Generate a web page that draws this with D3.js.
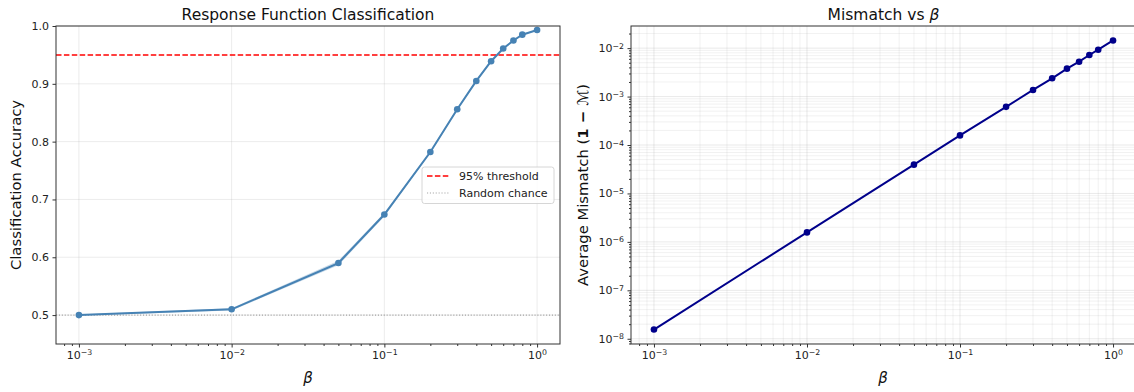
<!DOCTYPE html>
<html>
<head>
<meta charset="utf-8">
<script src="https://cdn.jsdelivr.net/npm/d3@7"></script>
<style>
  body { margin: 0; background: #fff; }
  svg { display: block; font-family: "DejaVu Sans", sans-serif; }
</style>
</head>
<body>
<svg id="chart" width="1134" height="392"></svg>
<script>
// data
const betas = [0.001, 0.01, 0.05, 0.1, 0.2, 0.3, 0.4, 0.5, 0.6, 0.7, 0.8, 1.0];
const accuracy = [0.500, 0.510, 0.590, 0.674, 0.782, 0.856, 0.905, 0.939, 0.961, 0.975, 0.985, 0.993];
const accuracyStd = [0.001, 0.002, 0.004, 0.003, 0.002, 0.002, 0.002, 0.002, 0.001, 0.001, 0.001, 0.001];
const mismatch = [1.55e-8, 1.57e-6, 3.93e-5, 1.58e-4, 6.14e-4, 1.37e-3, 2.38e-3, 3.77e-3, 5.25e-3, 7.21e-3, 9.27e-3, 1.44e-2];
const accTicks = [0.5, 0.6, 0.7, 0.8, 0.9, 1.0];
const betaTicks = [-3, -2, -1, 0];
const mismatchTicks = [-8, -7, -6, -5, -4, -3, -2];
const threshold = 0.95;
const chance = 0.5;
const legendLabels = ["95% threshold", "Random chance"];

let svg = d3.select('#chart');

// log-range with matplotlib style 5% margins
function logPad(lo, hi){
    let a = Math.log10(lo), b = Math.log10(hi), m = (b - a) * 0.05;
    return [Math.pow(10, a - m), Math.pow(10, b + m)];
}

// minor tick values for a log axis between two exponents
function minorVals(e0, e1){
    let out = [];
    for(let e = e0; e <= e1; e++){
        for(let k = 2; k <= 9; k++){ out.push(k * Math.pow(10, e)); }
    }
    return out;
}

// write 10^e as text with a superscript
function powLabel(sel, e){
    sel.text(null);
    sel.append('tspan').text('10');
    sel.append('tspan').attr('dy', '-0.45em').style('font-size', '7.8px')
        .text(e < 0 ? '\u2212' + (-e) : String(e));
}

function frame(g, box){
    g.append('rect')
        .attr('x', box.x0).attr('y', box.y0)
        .attr('width', box.x1 - box.x0).attr('height', box.y1 - box.y0)
        .attr('fill', 'none').attr('stroke', '#333').attr('stroke-width', 1);
}

// ---------------- left: classification accuracy ----------------
let L = {x0: 56, x1: 560, y0: 26, y1: 344};
let xL = d3.scaleLog().domain(logPad(betas[0], betas[betas.length-1])).range([L.x0, L.x1]);
let yL = d3.scaleLinear().domain([0.45, 1.0]).range([L.y1, L.y0]);

let gL = svg.append('g');
let clipL = svg.append('clipPath').attr('id', 'clipL');
clipL.append('rect').attr('x', L.x0).attr('y', L.y0).attr('width', L.x1 - L.x0).attr('height', L.y1 - L.y0);

// grid
gL.selectAll('.gx').data(betaTicks).enter().append('line')
    .attr('x1', d => xL(Math.pow(10, d))).attr('x2', d => xL(Math.pow(10, d)))
    .attr('y1', L.y0).attr('y2', L.y1)
    .attr('stroke', '#b0b0b0').attr('stroke-opacity', 0.3).attr('stroke-width', 0.8);
gL.selectAll('.gy').data(accTicks).enter().append('line')
    .attr('x1', L.x0).attr('x2', L.x1)
    .attr('y1', d => yL(d)).attr('y2', d => yL(d))
    .attr('stroke', '#b0b0b0').attr('stroke-opacity', 0.3).attr('stroke-width', 0.8);

let plotL = gL.append('g').attr('clip-path', 'url(#clipL)');

// reference lines
plotL.append('line')
    .attr('x1', L.x0).attr('x2', L.x1).attr('y1', yL(threshold)).attr('y2', yL(threshold))
    .attr('stroke', 'red').attr('stroke-width', 1.5).attr('stroke-dasharray', '5.5,2.4');
plotL.append('line')
    .attr('x1', L.x0).attr('x2', L.x1).attr('y1', yL(chance)).attr('y2', yL(chance))
    .attr('stroke', 'gray').attr('stroke-opacity', 0.7).attr('stroke-width', 1.1).attr('stroke-dasharray', '1.1,1.8');

// std band
let accData = betas.map((b, i) => ({b: b, v: accuracy[i], s: accuracyStd[i]}));
plotL.append('path')
    .datum(accData)
    .attr('d', d3.area().x(d => xL(d.b)).y0(d => yL(d.v - d.s)).y1(d => yL(d.v + d.s)))
    .attr('fill', 'steelblue').attr('fill-opacity', 0.3);

plotL.append('path')
    .datum(accData)
    .attr('d', d3.line().x(d => xL(d.b)).y(d => yL(d.v)))
    .attr('fill', 'none').attr('stroke', 'steelblue').attr('stroke-width', 2);
plotL.selectAll('circle').data(accData).enter().append('circle')
    .attr('cx', d => xL(d.b)).attr('cy', d => yL(d.v)).attr('r', 3.3)
    .attr('fill', 'steelblue');

// axes
let axLx = gL.append('g').attr('transform', 'translate(0,' + L.y1 + ')')
    .call(d3.axisBottom(xL).tickValues(betaTicks.map(e => Math.pow(10, e))).tickSize(3.5).tickPadding(3.5));
axLx.selectAll('.tick text').each(function(d){ powLabel(d3.select(this), Math.round(Math.log10(d))); });
gL.append('g').attr('transform', 'translate(0,' + L.y1 + ')')
    .call(d3.axisBottom(xL).tickValues(minorVals(-4, 0).filter(v => v > xL.domain()[0] && v < xL.domain()[1])).tickSize(2).tickFormat(''));
gL.append('g').attr('transform', 'translate(' + L.x0 + ',0)')
    .call(d3.axisLeft(yL).tickValues(accTicks).tickFormat(d3.format('.1f')).tickSize(3.5).tickPadding(3.5));
gL.selectAll('.domain').remove();
gL.selectAll('.tick line').attr('stroke', '#333');
gL.selectAll('.tick text').style('font-size', '11px').attr('fill', '#222').style('font-family', '"DejaVu Sans", sans-serif');
frame(gL, L);

// legend
let lg = gL.append('g').attr('transform', 'translate(422,167)');
lg.append('rect').attr('width', 132).attr('height', 36.5).attr('rx', 2.5)
    .attr('fill', 'white').attr('fill-opacity', 0.8).attr('stroke', '#ccc').attr('stroke-width', 0.8);
lg.append('line').attr('x1', 5).attr('x2', 27).attr('y1', 9).attr('y2', 9)
    .attr('stroke', 'red').attr('stroke-width', 1.5).attr('stroke-dasharray', '5.5,2.4');
lg.append('line').attr('x1', 5).attr('x2', 27).attr('y1', 26).attr('y2', 26)
    .attr('stroke', 'gray').attr('stroke-opacity', 0.7).attr('stroke-width', 1.1).attr('stroke-dasharray', '1.1,1.8');
lg.selectAll('text').data(legendLabels).enter().append('text')
    .attr('x', 37).attr('y', (d, i) => 9 + 17 * i).attr('dy', '0.35em')
    .style('font-size', '11px').attr('fill', '#222').text(d => d);

// labels
svg.append('text').attr('x', (L.x0 + L.x1) / 2).attr('y', 20)
    .style('text-anchor', 'middle').style('font-size', '15.5px').attr('fill', '#111')
    .text('Response Function Classification');
svg.append('text').attr('transform', 'translate(21,' + (L.y0 + L.y1) / 2 + ') rotate(-90)')
    .style('text-anchor', 'middle').style('font-size', '14.8px').attr('fill', '#111')
    .text('Classification Accuracy');
svg.append('text').attr('x', (L.x0 + L.x1) / 2).attr('y', 383)
    .style('text-anchor', 'middle').style('font-size', '15px').style('font-style', 'italic').attr('fill', '#111')
    .text('\u03b2');

// ---------------- right: mismatch ----------------
let R = {x0: 631, x1: 1136, y0: 26, y1: 344};
let xR = d3.scaleLog().domain(logPad(betas[0], betas[betas.length-1])).range([R.x0, R.x1]);
let yR = d3.scaleLog().domain(logPad(d3.min(mismatch), d3.max(mismatch))).range([R.y1, R.y0]);

let gR = svg.append('g');
let clipR = svg.append('clipPath').attr('id', 'clipR');
clipR.append('rect').attr('x', R.x0).attr('y', R.y0).attr('width', R.x1 - R.x0).attr('height', R.y1 - R.y0);

let xMinor = minorVals(-4, 0).filter(v => v > xR.domain()[0] && v < xR.domain()[1]);
let yMinor = minorVals(-9, -2).filter(v => v > yR.domain()[0] && v < yR.domain()[1]);

// grid (major and minor)
gR.selectAll('.gxm').data(xMinor).enter().append('line')
    .attr('x1', d => xR(d)).attr('x2', d => xR(d)).attr('y1', R.y0).attr('y2', R.y1)
    .attr('stroke', '#b0b0b0').attr('stroke-opacity', 0.3).attr('stroke-width', 0.6);
gR.selectAll('.gym').data(yMinor).enter().append('line')
    .attr('x1', R.x0).attr('x2', R.x1).attr('y1', d => yR(d)).attr('y2', d => yR(d))
    .attr('stroke', '#b0b0b0').attr('stroke-opacity', 0.3).attr('stroke-width', 0.6);
gR.selectAll('.gx').data(betaTicks).enter().append('line')
    .attr('x1', d => xR(Math.pow(10, d))).attr('x2', d => xR(Math.pow(10, d)))
    .attr('y1', R.y0).attr('y2', R.y1)
    .attr('stroke', '#b0b0b0').attr('stroke-opacity', 0.35).attr('stroke-width', 0.8);
gR.selectAll('.gy').data(mismatchTicks).enter().append('line')
    .attr('x1', R.x0).attr('x2', R.x1)
    .attr('y1', d => yR(Math.pow(10, d))).attr('y2', d => yR(Math.pow(10, d)))
    .attr('stroke', '#b0b0b0').attr('stroke-opacity', 0.35).attr('stroke-width', 0.8);

let plotR = gR.append('g').attr('clip-path', 'url(#clipR)');
let misData = betas.map((b, i) => ({b: b, v: mismatch[i]}));
plotR.append('path')
    .datum(misData)
    .attr('d', d3.line().x(d => xR(d.b)).y(d => yR(d.v)))
    .attr('fill', 'none').attr('stroke', 'darkblue').attr('stroke-width', 2);
plotR.selectAll('circle').data(misData).enter().append('circle')
    .attr('cx', d => xR(d.b)).attr('cy', d => yR(d.v)).attr('r', 3.3)
    .attr('fill', 'darkblue');

// axes
let axRx = gR.append('g').attr('transform', 'translate(0,' + R.y1 + ')')
    .call(d3.axisBottom(xR).tickValues(betaTicks.map(e => Math.pow(10, e))).tickSize(3.5).tickPadding(3.5));
axRx.selectAll('.tick text').each(function(d){ powLabel(d3.select(this), Math.round(Math.log10(d))); });
gR.append('g').attr('transform', 'translate(0,' + R.y1 + ')')
    .call(d3.axisBottom(xR).tickValues(xMinor).tickSize(2).tickFormat(''));
let axRy = gR.append('g').attr('transform', 'translate(' + R.x0 + ',0)')
    .call(d3.axisLeft(yR).tickValues(mismatchTicks.map(e => Math.pow(10, e))).tickSize(3.5).tickPadding(3.5));
axRy.selectAll('.tick text').each(function(d){ powLabel(d3.select(this), Math.round(Math.log10(d))); });
gR.append('g').attr('transform', 'translate(' + R.x0 + ',0)')
    .call(d3.axisLeft(yR).tickValues(yMinor).tickSize(2).tickFormat(''));
gR.selectAll('.domain').remove();
gR.selectAll('.tick line').attr('stroke', '#333');
gR.selectAll('.tick text').style('font-size', '11px').attr('fill', '#222').style('font-family', '"DejaVu Sans", sans-serif');
frame(gR, R);

// labels
let tR = svg.append('text').attr('x', (R.x0 + R.x1) / 2).attr('y', 20)
    .style('text-anchor', 'middle').style('font-size', '15.5px').attr('fill', '#111');
tR.append('tspan').text('Mismatch vs ');
tR.append('tspan').style('font-style', 'italic').text('\u03b2');

let yl = svg.append('text').attr('transform', 'translate(588,' + (R.y0 + R.y1) / 2 + ') rotate(-90)')
    .style('text-anchor', 'middle').style('font-size', '14.8px').attr('fill', '#111');
yl.append('tspan').text('Average Mismatch (');
yl.append('tspan').style('font-weight', 'bold').text('1 \u2212 ');
yl.append('tspan').style('font-style', 'italic').text('\u2133');
yl.append('tspan').text(')');

svg.append('text').attr('x', 883).attr('y', 383)
    .style('text-anchor', 'middle').style('font-size', '15px').style('font-style', 'italic').attr('fill', '#111')
    .text('\u03b2');
</script>
</body>
</html>
